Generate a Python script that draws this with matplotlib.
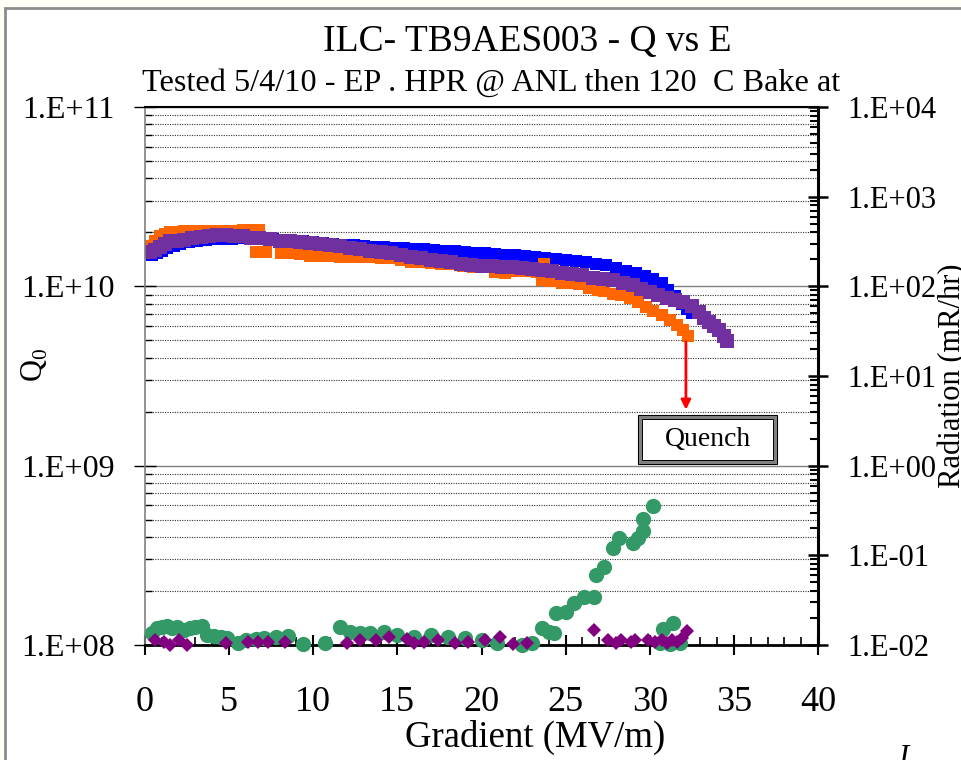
import numpy as np
import matplotlib
matplotlib.use('Agg')
import matplotlib.pyplot as plt
from matplotlib.ticker import LogLocator, FixedLocator, FuncFormatter, NullFormatter, MultipleLocator
from matplotlib.patches import Rectangle

plt.rcParams['font.family'] = ['Liberation Serif', 'DejaVu Serif']
plt.rcParams['mathtext.fontset'] = 'custom'
plt.rcParams['mathtext.rm'] = 'Liberation Serif'

# Q0 vs gradient, three runs
blue_E = [0.4, 0.7, 1.0, 1.3, 1.7, 2.1, 2.6, 3.1, 3.6, 4.1, 4.7, 5.2, 5.8, 6.4, 7.0, 7.6,
          8.2, 8.8, 9.4, 10.0, 10.6, 11.2, 11.8, 12.4, 13.0, 13.6, 14.2, 14.8, 15.4, 16.0,
          16.6, 17.2, 17.8, 18.4, 19.0, 19.6, 20.2, 20.8, 21.4, 22.0, 22.6, 23.2, 23.8,
          24.4, 25.0, 25.6, 26.2, 26.8, 27.4, 28.0, 28.6, 29.2, 29.7, 30.2, 30.7, 31.1,
          31.5, 31.9, 32.2, 32.5]
blue_Q = [1.5e10, 1.53e10, 1.58e10, 1.63e10, 1.68e10, 1.73e10, 1.77e10, 1.8e10, 1.82e10,
          1.83e10, 1.83e10, 1.84e10, 1.85e10, 1.85e10, 1.85e10, 1.84e10, 1.82e10, 1.8e10,
          1.78e10, 1.76e10, 1.74e10, 1.72e10, 1.71e10, 1.69e10, 1.68e10, 1.66e10, 1.65e10,
          1.64e10, 1.63e10, 1.62e10, 1.61e10, 1.6e10, 1.58e10, 1.57e10, 1.55e10, 1.54e10,
          1.53e10, 1.52e10, 1.5e10, 1.49e10, 1.47e10, 1.46e10, 1.44e10, 1.42e10, 1.4e10,
          1.39e10, 1.37e10, 1.34e10, 1.31e10, 1.27e10, 1.22e10, 1.18e10, 1.14e10, 1.1e10,
          1.04e10, 9.6e9, 8.8e9, 8.0e9, 7.5e9, 7.1e9]

orange_E = [0.3, 0.6, 0.9, 1.2, 1.5, 1.9, 2.3, 2.8, 3.3, 3.8, 4.3, 4.8, 5.3, 5.8, 6.3, 6.8,
            6.6, 7.2, 8.1, 8.6, 9.2, 9.8, 10.4, 11.0, 11.6, 12.2, 12.8, 13.4, 14.0, 14.6,
            15.2, 15.8, 16.4, 17.0, 17.6, 18.2, 18.9, 19.5, 20.1, 20.8, 21.4, 22.1, 22.7,
            23.3, 23.7, 23.6, 24.1, 24.8, 25.3, 25.8, 26.4, 26.9, 27.3, 27.8, 28.3, 28.8,
            29.3, 29.8, 30.2, 30.7, 31.2, 31.6, 32.0, 32.3]
orange_Q = [1.68e10, 1.8e10, 1.9e10, 1.96e10, 2.0e10, 2.02e10, 2.03e10, 2.03e10, 2.03e10,
            2.03e10, 2.03e10, 2.04e10, 2.04e10, 2.05e10, 2.06e10, 2.06e10, 1.55e10,
            1.55e10, 1.54e10, 1.53e10, 1.52e10, 1.48e10, 1.47e10, 1.47e10, 1.46e10,
            1.46e10, 1.45e10, 1.45e10, 1.44e10, 1.43e10, 1.4e10, 1.37e10, 1.36e10,
            1.35e10, 1.34e10, 1.33e10, 1.3e10, 1.29e10, 1.28e10, 1.2e10, 1.19e10, 1.22e10,
            1.21e10, 1.2e10, 1.33e10, 1.08e10, 1.07e10, 1.05e10, 1.04e10, 1.03e10, 9.8e9,
            9.6e9, 9.4e9, 9.1e9, 8.9e9, 8.6e9, 8.2e9, 7.7e9, 7.3e9, 6.9e9, 6.5e9, 6.1e9,
            5.7e9, 5.3e9]

purple_E = [0.3, 0.6, 0.9, 1.2, 1.5, 1.9, 2.3, 2.8, 3.3, 3.8, 4.3, 4.8, 5.3, 5.8, 6.3, 6.8,
            7.4, 8.0, 8.6, 9.2, 9.8, 10.4, 11.0, 11.6, 12.2, 12.8, 13.4, 14.0, 14.6, 15.2,
            15.8, 16.4, 17.0, 17.6, 18.2, 18.8, 19.4, 20.0, 20.6, 21.2, 21.8, 22.4, 23.0,
            23.6, 24.2, 24.8, 25.4, 26.0, 26.6, 27.2, 27.8, 28.4, 29.0, 29.5, 30.0, 30.5,
            31.0, 31.5, 32.0, 32.5, 32.9, 33.2, 33.5, 33.8, 34.1, 34.4, 34.6]
purple_Q = [1.55e10, 1.6e10, 1.66e10, 1.73e10, 1.78e10, 1.8e10, 1.82e10, 1.85e10, 1.88e10,
            1.91e10, 1.93e10, 1.93e10, 1.92e10, 1.9e10, 1.87e10, 1.85e10, 1.83e10, 1.8e10,
            1.78e10, 1.76e10, 1.74e10, 1.72e10, 1.7e10, 1.67e10, 1.64e10, 1.61e10, 1.58e10,
            1.55e10, 1.53e10, 1.49e10, 1.46e10, 1.43e10, 1.41e10, 1.39e10, 1.37e10,
            1.33e10, 1.31e10, 1.3e10, 1.3e10, 1.29e10, 1.28e10, 1.27e10, 1.25e10, 1.23e10,
            1.21e10, 1.19e10, 1.17e10, 1.15e10, 1.12e10, 1.1e10, 1.08e10, 1.05e10, 1.02e10,
            9.7e9, 9.3e9, 8.9e9, 8.6e9, 8.4e9, 8.2e9, 7.8e9, 7.2e9, 6.7e9, 6.3e9, 6.0e9,
            5.7e9, 5.3e9, 4.95e9]

# radiation (mR/hr), right axis
green_E = [0.4, 0.7, 1.0, 1.3, 1.6, 1.9, 2.3, 2.7, 3.0, 3.4, 3.7, 4.1, 4.5, 4.9, 5.5, 6.0,
           6.6, 7.1, 7.8, 8.5, 9.4, 10.7, 11.6, 12.2, 12.8, 13.4, 14.2, 15.0, 16.0, 17.0,
           18.0, 19.0, 20.0, 20.9, 22.4, 23.0, 23.6, 24.0, 24.3, 24.4, 25.0, 25.5, 26.1,
           26.7, 26.8, 27.3, 27.8, 28.2, 29.0, 29.3, 29.6, 29.6, 30.2, 30.6, 30.8, 31.2,
           31.4, 31.8]
green_R = [0.0137, 0.0155, 0.016, 0.0163, 0.0155, 0.016, 0.0148, 0.0155, 0.016, 0.0163,
           0.013, 0.0125, 0.0123, 0.012, 0.0106, 0.0114, 0.0118, 0.012, 0.0123, 0.0127,
           0.0103, 0.0106, 0.016, 0.014, 0.0137, 0.0137, 0.014, 0.013, 0.0123, 0.013,
           0.0123, 0.012, 0.0114, 0.0106, 0.01, 0.0106, 0.0156, 0.014, 0.0135, 0.0229,
           0.0233, 0.0295, 0.0344, 0.0344, 0.0607, 0.0745, 0.121, 0.157, 0.138, 0.157,
           0.188, 0.255, 0.356, 0.0106, 0.015, 0.0103, 0.0177, 0.0106]

diam_E = [0.6, 1.1, 1.5, 2.0, 2.5, 4.8, 6.1, 6.7, 7.3, 8.3, 12.0, 12.8, 13.7, 14.5, 15.6,
          16.0, 16.6, 17.4, 18.4, 19.2, 20.2, 21.1, 21.9, 22.7, 26.7, 27.5, 28.0, 28.3,
          28.9, 29.1, 29.9, 30.3, 30.7, 31.0, 31.3, 31.6, 31.9, 32.2]
diam_R = [0.0114, 0.0109, 0.010, 0.0114, 0.010, 0.0106, 0.0109, 0.0109, 0.0107, 0.0109,
          0.0106, 0.0114, 0.0114, 0.0123, 0.0117, 0.0106, 0.0107, 0.0114, 0.0106, 0.0109,
          0.0114, 0.0123, 0.0103, 0.0106, 0.0148, 0.0114, 0.0106, 0.0114, 0.0109, 0.0114,
          0.0114, 0.0109, 0.0114, 0.0106, 0.0114, 0.0109, 0.012, 0.0144]

W, H = 961, 760
fig = plt.figure(figsize=(W / 100, H / 100), dpi=100, facecolor='#fffff6')
# chart frame
fig.patches.append(Rectangle((5 / W, -0.1), 1.2, 1.1 - 8 / H, transform=fig.transFigure,
                             facecolor='white', edgecolor='#8c8c8c', lw=2, zorder=-5))

ax = fig.add_axes([145 / W, 1 - 645 / H, 673 / W, 538 / H])
ax.set_facecolor('white')
ax.set_axisbelow(True)

ax.plot(blue_E, blue_Q, 's', color='#0000ff', ms=8, mew=0)
ax.plot(orange_E, orange_Q, 's', color='#ff6600', ms=8.5, mew=0)
ax.plot(purple_E, purple_Q, 's', color='#7030a0', ms=9.5, mew=0)

ax.set_xlim(0, 40)
ax.set_yscale('log')
ax.set_ylim(1e8, 1e11)

fmt = FuncFormatter(lambda v, p: '1.E%+03d' % int(round(np.log10(v))))
ax.yaxis.set_major_locator(FixedLocator([1e8, 1e9, 1e10, 1e11]))
ax.yaxis.set_major_formatter(fmt)
ax.yaxis.set_minor_locator(LogLocator(base=10, subs=np.arange(2, 10), numticks=20))
ax.yaxis.set_minor_formatter(NullFormatter())
ax.xaxis.set_major_locator(MultipleLocator(5))
ax.xaxis.set_minor_locator(MultipleLocator(1))

ax.grid(True, which='major', axis='y', color='#808080', lw=1, ls='-')
ax.grid(True, which='minor', axis='y', color='#333333', lw=0.8, ls=(0, (1, 1.2)))

ax.tick_params(axis='x', which='major', direction='inout', length=15, width=1.5,
               labelsize=26, pad=22)
ax.tick_params(axis='x', which='minor', direction='in', length=5.5, width=1.2)
ax.tick_params(axis='y', which='major', direction='inout', length=16, width=1,
               labelsize=23, pad=14)
ax.tick_params(axis='y', which='minor', direction='in', length=5, width=1)

ax.spines['left'].set_color('#808080')
ax.spines['left'].set_linewidth(1.2)
ax.spines['bottom'].set_linewidth(2)
ax.spines['top'].set_linewidth(1.5)
ax.spines['right'].set_visible(False)

ax2 = ax.twinx()
ax2.set_yscale('log')
ax2.set_ylim(1e-2, 1e4)
ax2.plot(green_E, green_R, 'o', color='#339966', ms=11, mew=0, clip_on=False)
ax2.plot(diam_E, diam_R, 'D', color='#800080', ms=7.5, mew=0, clip_on=False)
ax2.yaxis.set_major_locator(FixedLocator([10.0 ** k for k in range(-2, 5)]))
ax2.yaxis.set_major_formatter(fmt)
ax2.yaxis.set_minor_locator(LogLocator(base=10, subs=np.arange(2, 10), numticks=20))
ax2.yaxis.set_minor_formatter(NullFormatter())
ax2.tick_params(axis='y', which='major', direction='inout', length=15, width=1.8,
                labelsize=22, pad=14)
ax2.tick_params(axis='y', which='minor', direction='in', length=6, width=1.5)
ax2.spines['right'].set_linewidth(2.2)
for s in ['left', 'top', 'bottom']:
    ax2.spines[s].set_visible(False)

# quench marker
ax.annotate('', xy=(32.15, 2.05e9), xytext=(32.15, 4.9e9),
            arrowprops=dict(arrowstyle='-|>', color='red', lw=2, mutation_scale=14,
                            shrinkA=0, shrinkB=0))
bx0, by0, bw, bh = (638 - 145) / 673, (645 - 464) / 538, 139 / 673, 49 / 538
dx, dy = 2 / 673, 2 / 538
ax.add_patch(Rectangle((bx0, by0), bw, bh, transform=ax.transAxes, fc='white',
                       ec='black', lw=0.8, zorder=5))
ax.add_patch(Rectangle((bx0 + dx, by0 + dy), bw - 2 * dx, bh - 2 * dy, transform=ax.transAxes,
                       fc='none', ec='#808080', lw=2.2, zorder=5))
ax.add_patch(Rectangle((bx0 + 2 * dx, by0 + 2 * dy), bw - 4 * dx, bh - 4 * dy,
                       transform=ax.transAxes, fc='none', ec='black', lw=0.7, zorder=5))
ax.text(bx0 + bw / 2, by0 + bh / 2, 'Quench', transform=ax.transAxes, ha='center',
        va='center', fontsize=20, zorder=6)

fig.text(527 / W, 1 - 42 / H, 'ILC- TB9AES003 - Q vs E', ha='center', va='center', fontsize=27)
fig.text(491 / W, 1 - 83 / H, 'Tested 5/4/10 - EP . HPR @ ANL then 120  C Bake at',
         ha='center', va='center', fontsize=23.2)
fig.text(535 / W, 1 - 737 / H, 'Gradient (MV/m)', ha='center', va='center', fontsize=26.5)
fig.text(35 / W, 1 - 365 / H, r'Q$_\mathregular{0}$', rotation=90, ha='center', va='center',
         fontsize=22)
fig.text(953 / W, 1 - 376 / H, 'Radiation (mR/hr)', rotation=90, ha='center', va='center',
         fontsize=22)
fig.text(903 / W, 1 - 744 / H, 'I', ha='center', va='top', fontsize=22, style='italic')

fig.savefig('out.png', dpi=100, facecolor=fig.get_facecolor())
